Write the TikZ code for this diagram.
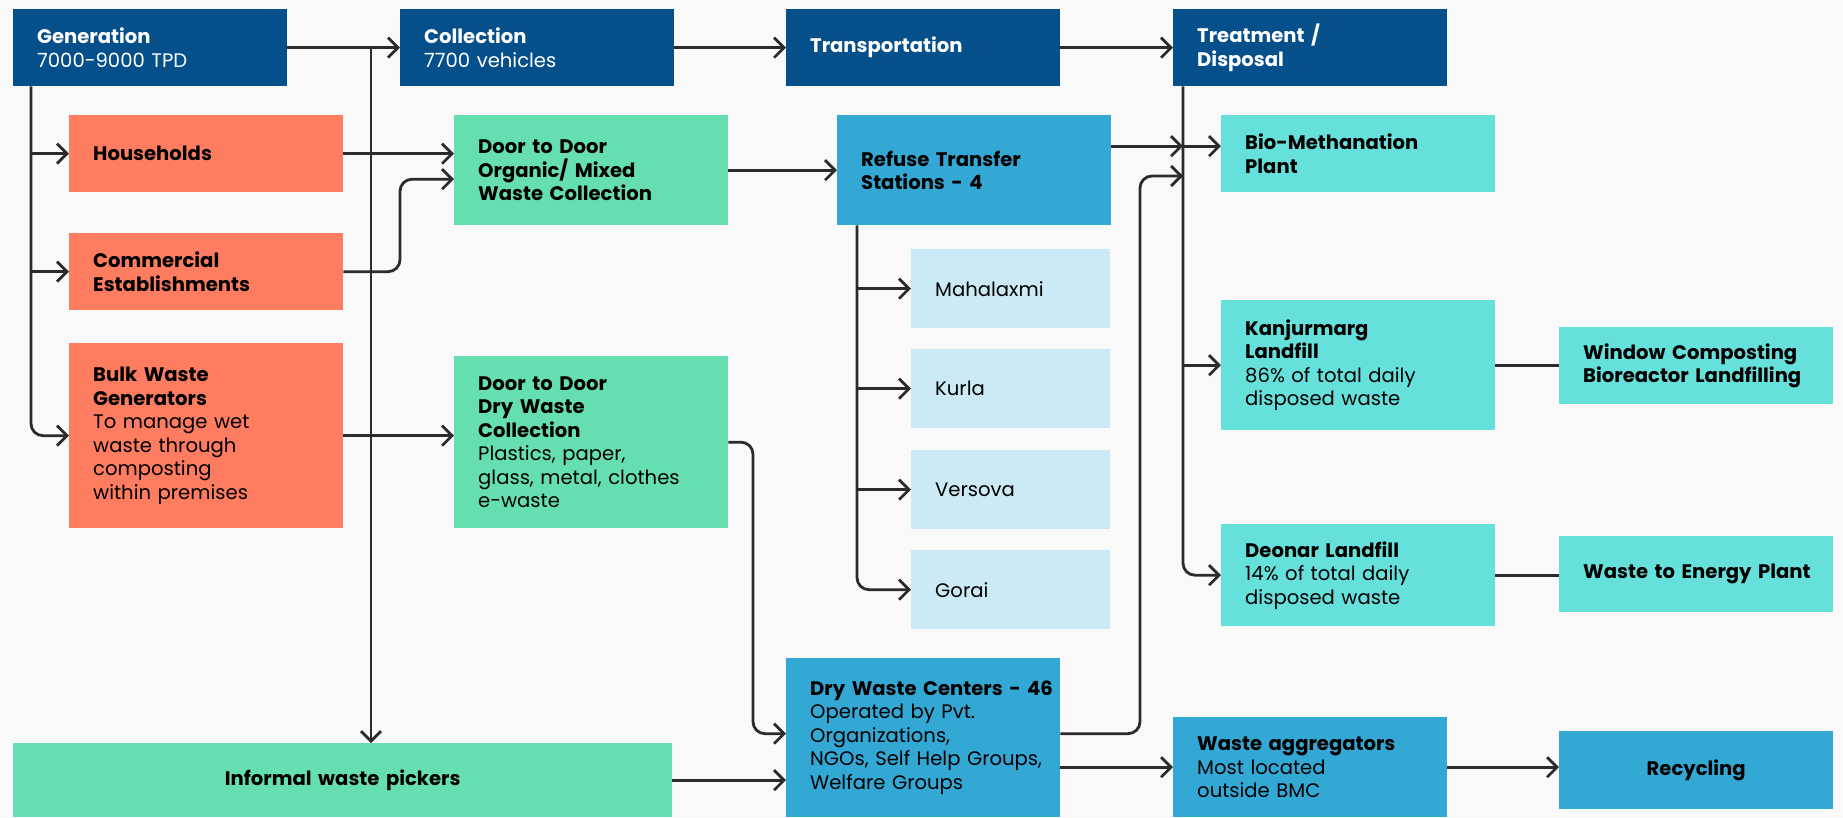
\documentclass[tikz,border=0pt]{standalone}
\usepackage{fontspec}
\setmainfont{Poppins}
\usetikzlibrary{arrows.meta}
\definecolor{stageblue}{HTML}{054F8B}
\definecolor{sourcered}{HTML}{FE7C60}
\definecolor{collectgreen}{HTML}{66DFB0}
\definecolor{disposalteal}{HTML}{66E0DA}
\definecolor{transferblue}{HTML}{34A8D5}
\definecolor{stationblue}{HTML}{CCEAF5}
\definecolor{paper}{HTML}{F9F9F9}
\definecolor{linegray}{HTML}{2B2B2B}

\begin{document}
\begin{tikzpicture}
    [
        x=1pt, y=-1pt,
        every node/.style={font=\fontsize{19.6}{23.5}\selectfont, anchor=north west, inner xsep=24pt, inner ysep=0pt, align=left, text width=226pt},
        rectanglenode_stage/.style={rectangle, fill=stageblue, text=white, minimum height=77pt},
        rectanglenode_source/.style={rectangle, fill=sourcered, text=black},
        rectanglenode_collect/.style={rectangle, fill=collectgreen, text=black},
        rectanglenode_transfer/.style={rectangle, fill=transferblue, text=black},
        rectanglenode_station/.style={rectangle, fill=stationblue, text=black, text width=151pt, minimum height=79pt},
        rectanglenode_disposal/.style={rectangle, fill=disposalteal, text=black},
        arrowline/.style={draw=linegray, line width=2.8pt, rounded corners=12pt, -{Straight Barb[length=10pt, width=20pt]}},
        plainline/.style={draw=linegray, line width=2.8pt},
    ]

    \fill[paper] (0,0) rectangle (1843,817);
    \useasboundingbox (0,0) rectangle (1843,817);

    % stages
    \node[rectanglenode_stage] (generation) at (13,9) {\textbf{Generation}\\7000-9000 TPD};
    \node[rectanglenode_stage] (collection) at (400,9) {\textbf{Collection}\\7700 vehicles};
    \node[rectanglenode_stage] (transportation) at (786,9) {\textbf{Transportation}};
    \node[rectanglenode_stage] (treatment) at (1173,9) {\textbf{Treatment /}\\\textbf{Disposal}};

    % sources
    \node[rectanglenode_source, minimum height=77pt] (households) at (69,115) {\textbf{Households}};
    \node[rectanglenode_source, minimum height=77pt] (commercial) at (69,233) {\textbf{Commercial}\\\textbf{Establishments}};
    \node[rectanglenode_source, minimum height=185pt] (bulk) at (69,343) {\textbf{Bulk Waste}\\\textbf{Generators}\\To manage wet\\waste through\\composting\\within premises};

    % collection
    \node[rectanglenode_collect, minimum height=110pt] (door_organic) at (454,115) {\textbf{Door to Door}\\\textbf{Organic/ Mixed}\\\textbf{Waste Collection}};
    \node[rectanglenode_collect, minimum height=172pt] (door_dry) at (454,356) {\textbf{Door to Door}\\\textbf{Dry Waste}\\\textbf{Collection}\\Plastics, paper,\\glass, metal, clothes\\e-waste};
    \node[rectanglenode_collect, minimum height=74pt, text width=611pt, align=center] (informal) at (13,743) {\textbf{Informal waste pickers}};

    % transfer
    \node[rectanglenode_transfer, minimum height=110pt] (refuse) at (837,115) {\textbf{Refuse Transfer}\\\textbf{Stations - 4}};
    \node[rectanglenode_station] (mahalaxmi) at (911,249) {Mahalaxmi};
    \node[rectanglenode_station] (kurla) at (911,349) {Kurla};
    \node[rectanglenode_station] (versova) at (911,450) {Versova};
    \node[rectanglenode_station] (gorai) at (911,550) {Gorai};
    \node[rectanglenode_transfer, minimum height=159pt] (drycenters) at (786,658) {\mbox{\textbf{Dry Waste Centers - 46}}\\Operated by Pvt.\\Organizations,\\\mbox{NGOs, Self Help Groups,}\\Welfare Groups};
    \node[rectanglenode_transfer, minimum height=100pt] (aggregators) at (1173,717) {\textbf{Waste aggregators}\\Most located\\outside BMC};
    \node[rectanglenode_transfer, minimum height=78pt, align=center] (recycling) at (1559,731) {\textbf{Recycling}};

    % disposal
    \node[rectanglenode_disposal, minimum height=77pt] (biomethanation) at (1221,115) {\textbf{Bio-Methanation}\\\textbf{Plant}};
    \node[rectanglenode_disposal, minimum height=130pt] (kanjurmarg) at (1221,300) {\textbf{Kanjurmarg}\\\textbf{Landfill}\\86\% of total daily\\disposed waste};
    \node[rectanglenode_disposal, minimum height=102pt] (deonar) at (1221,524) {\textbf{Deonar Landfill}\\14\% of total daily\\disposed waste};
    \node[rectanglenode_disposal, minimum height=77pt] (composting) at (1559,327) {\textbf{Window Composting}\\\textbf{Bioreactor Landfilling}};
    \node[rectanglenode_disposal, minimum height=76pt] (energy) at (1559,536) {\mbox{\textbf{Waste to Energy Plant}}};

    % helper points
    \coordinate (gen_split) at (371,48);
    \coordinate (gen_trunk) at ([xshift=18pt]generation.south west);
    \coordinate (refuse_trunk) at ([xshift=20pt]refuse.south west);
    \coordinate (treat_trunk) at ([xshift=10pt]treatment.south west);
    \coordinate (comm_in) at ([yshift=-9pt]door_organic.west);
    \coordinate (refuse_out) at ([yshift=24pt]refuse.east);
    \coordinate (dry_in) at ([yshift=4pt]drycenters.west);
    \coordinate (dry_out) at ([yshift=4pt]drycenters.east);
    \coordinate (dry_bend) at (1140,176);

    % stage row
    \draw[arrowline] (generation) -- (collection);
    \draw[arrowline] (collection) -- (transportation);
    \draw[arrowline] (transportation) -- (treatment);
    \draw[arrowline] (gen_split) -- (gen_split |- informal.north);

    % generation branches
    \draw[arrowline] (gen_trunk) |- (bulk.west);
    \draw[arrowline] (gen_trunk |- households.west) -- (households.west);
    \draw[arrowline] (gen_trunk |- commercial.west) -- (commercial.west);

    % to collection
    \draw[arrowline] (households.east) -- (households.east -| door_organic.west);
    \draw[arrowline] (commercial.east) -| ([xshift=-54pt]comm_in) -- (comm_in);
    \draw[arrowline] (bulk.east) -- (bulk.east -| door_dry.west);
    \draw[arrowline] (door_organic) -- (refuse);
    \draw[arrowline] (door_dry.east) -| ([xshift=-33pt]dry_in) -- (dry_in);
    \draw[arrowline] (informal.east) -- (informal.east -| drycenters.west);

    % transfer stations
    \draw[arrowline] (refuse_trunk) |- (gorai.west);
    \draw[arrowline] (refuse_trunk |- mahalaxmi.west) -- (mahalaxmi.west);
    \draw[arrowline] (refuse_trunk |- kurla.west) -- (kurla.west);
    \draw[arrowline] (refuse_trunk |- versova.west) -- (versova.west);

    % treatment
    \draw[arrowline] (refuse_out) -- (refuse_out -| treat_trunk);
    \draw[arrowline] (treat_trunk) |- (deonar.west);
    \draw[arrowline] (refuse_out -| treat_trunk) -- (refuse_out -| biomethanation.west);
    \draw[arrowline] (treat_trunk |- kanjurmarg.west) -- (kanjurmarg.west);
    \draw[arrowline] (dry_out) -| (dry_bend) -- (dry_bend -| treat_trunk);
    \draw[plainline] (kanjurmarg.east) -- (kanjurmarg.east -| composting.west);
    \draw[plainline] (deonar.east) -- (deonar.east -| energy.west);

    % recycling
    \draw[arrowline] (drycenters.east |- aggregators.west) -- (aggregators.west);
    \draw[arrowline] (aggregators.east) -- (aggregators.east -| recycling.west);

\end{tikzpicture}
\end{document}
